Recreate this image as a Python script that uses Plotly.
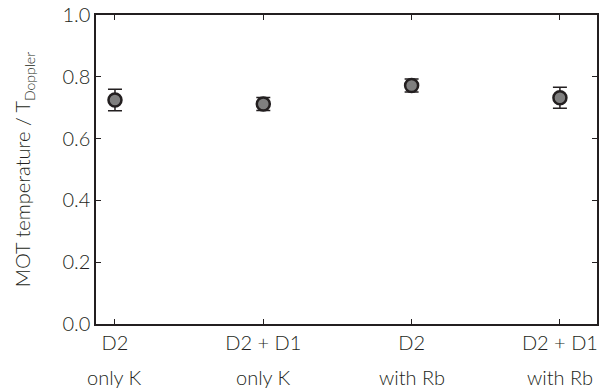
import plotly.graph_objects as go

categories_line1 = ["D2", "D2 + D1", "D2", "D2 + D1"]
categories_line2 = ["only K", "only K", "with Rb", "with Rb"]
positions = [0, 1, 2, 3]
values = [0.725, 0.712, 0.772, 0.732]
errors = [0.035, 0.021, 0.021, 0.034]
y_ticks = [0.0, 0.2, 0.4, 0.6, 0.8, 1.0]

dark = "#231f20"
font_family = "Lato, 'Open Sans', sans-serif"

fig = go.Figure()
fig.add_trace(go.Scatter(
    x=positions, y=values, mode="markers",
    error_y=dict(type="data", array=errors, visible=True, color=dark, thickness=1.5, width=7),
    marker=dict(size=13, color="#7f7f7f", line=dict(color=dark, width=2.5)),
    showlegend=False,
))

for p, t in zip(positions, categories_line2):
    fig.add_annotation(x=p, y=0, xref="x", yref="paper", text=t, showarrow=False,
                       yanchor="middle", yshift=-53,
                       font=dict(size=20, color=dark, family=font_family, weight=300))

fig.update_layout(
    width=606, height=392,
    margin=dict(l=96, r=9, t=15, b=68),
    paper_bgcolor="white", plot_bgcolor="white",
    font=dict(family=font_family, size=20, color=dark, weight=300),
)
fig.update_xaxes(
    range=[-0.128, 3.25], tickvals=positions, ticktext=categories_line1,
    showline=True, linecolor=dark, linewidth=1.5, mirror="ticks",
    ticks="inside", ticklen=5, tickwidth=1, tickcolor=dark,
    showgrid=False, zeroline=False, automargin=False, ticklabeloverflow="allow",
    tickfont=dict(size=20, weight=300),
)
fig.update_yaxes(
    range=[0, 1.0], tickvals=y_ticks, tickformat=".1f",
    showline=True, linecolor=dark, linewidth=1.5, mirror="ticks",
    ticks="inside", ticklen=5, tickwidth=1, tickcolor=dark,
    showgrid=False, zeroline=False, automargin=False, ticklabeloverflow="allow",
    tickfont=dict(size=20, weight=300),
    title=dict(text="MOT temperature / T<sub>Doppler</sub>",
               font=dict(size=20, weight=300), standoff=26),
)

# remove the page's default 8px body margin so the figure fills the window
fig.write_html("out.html", config={"displayModeBar": False},
               post_script="document.body.style.margin='0';document.body.style.overflow='hidden';")
